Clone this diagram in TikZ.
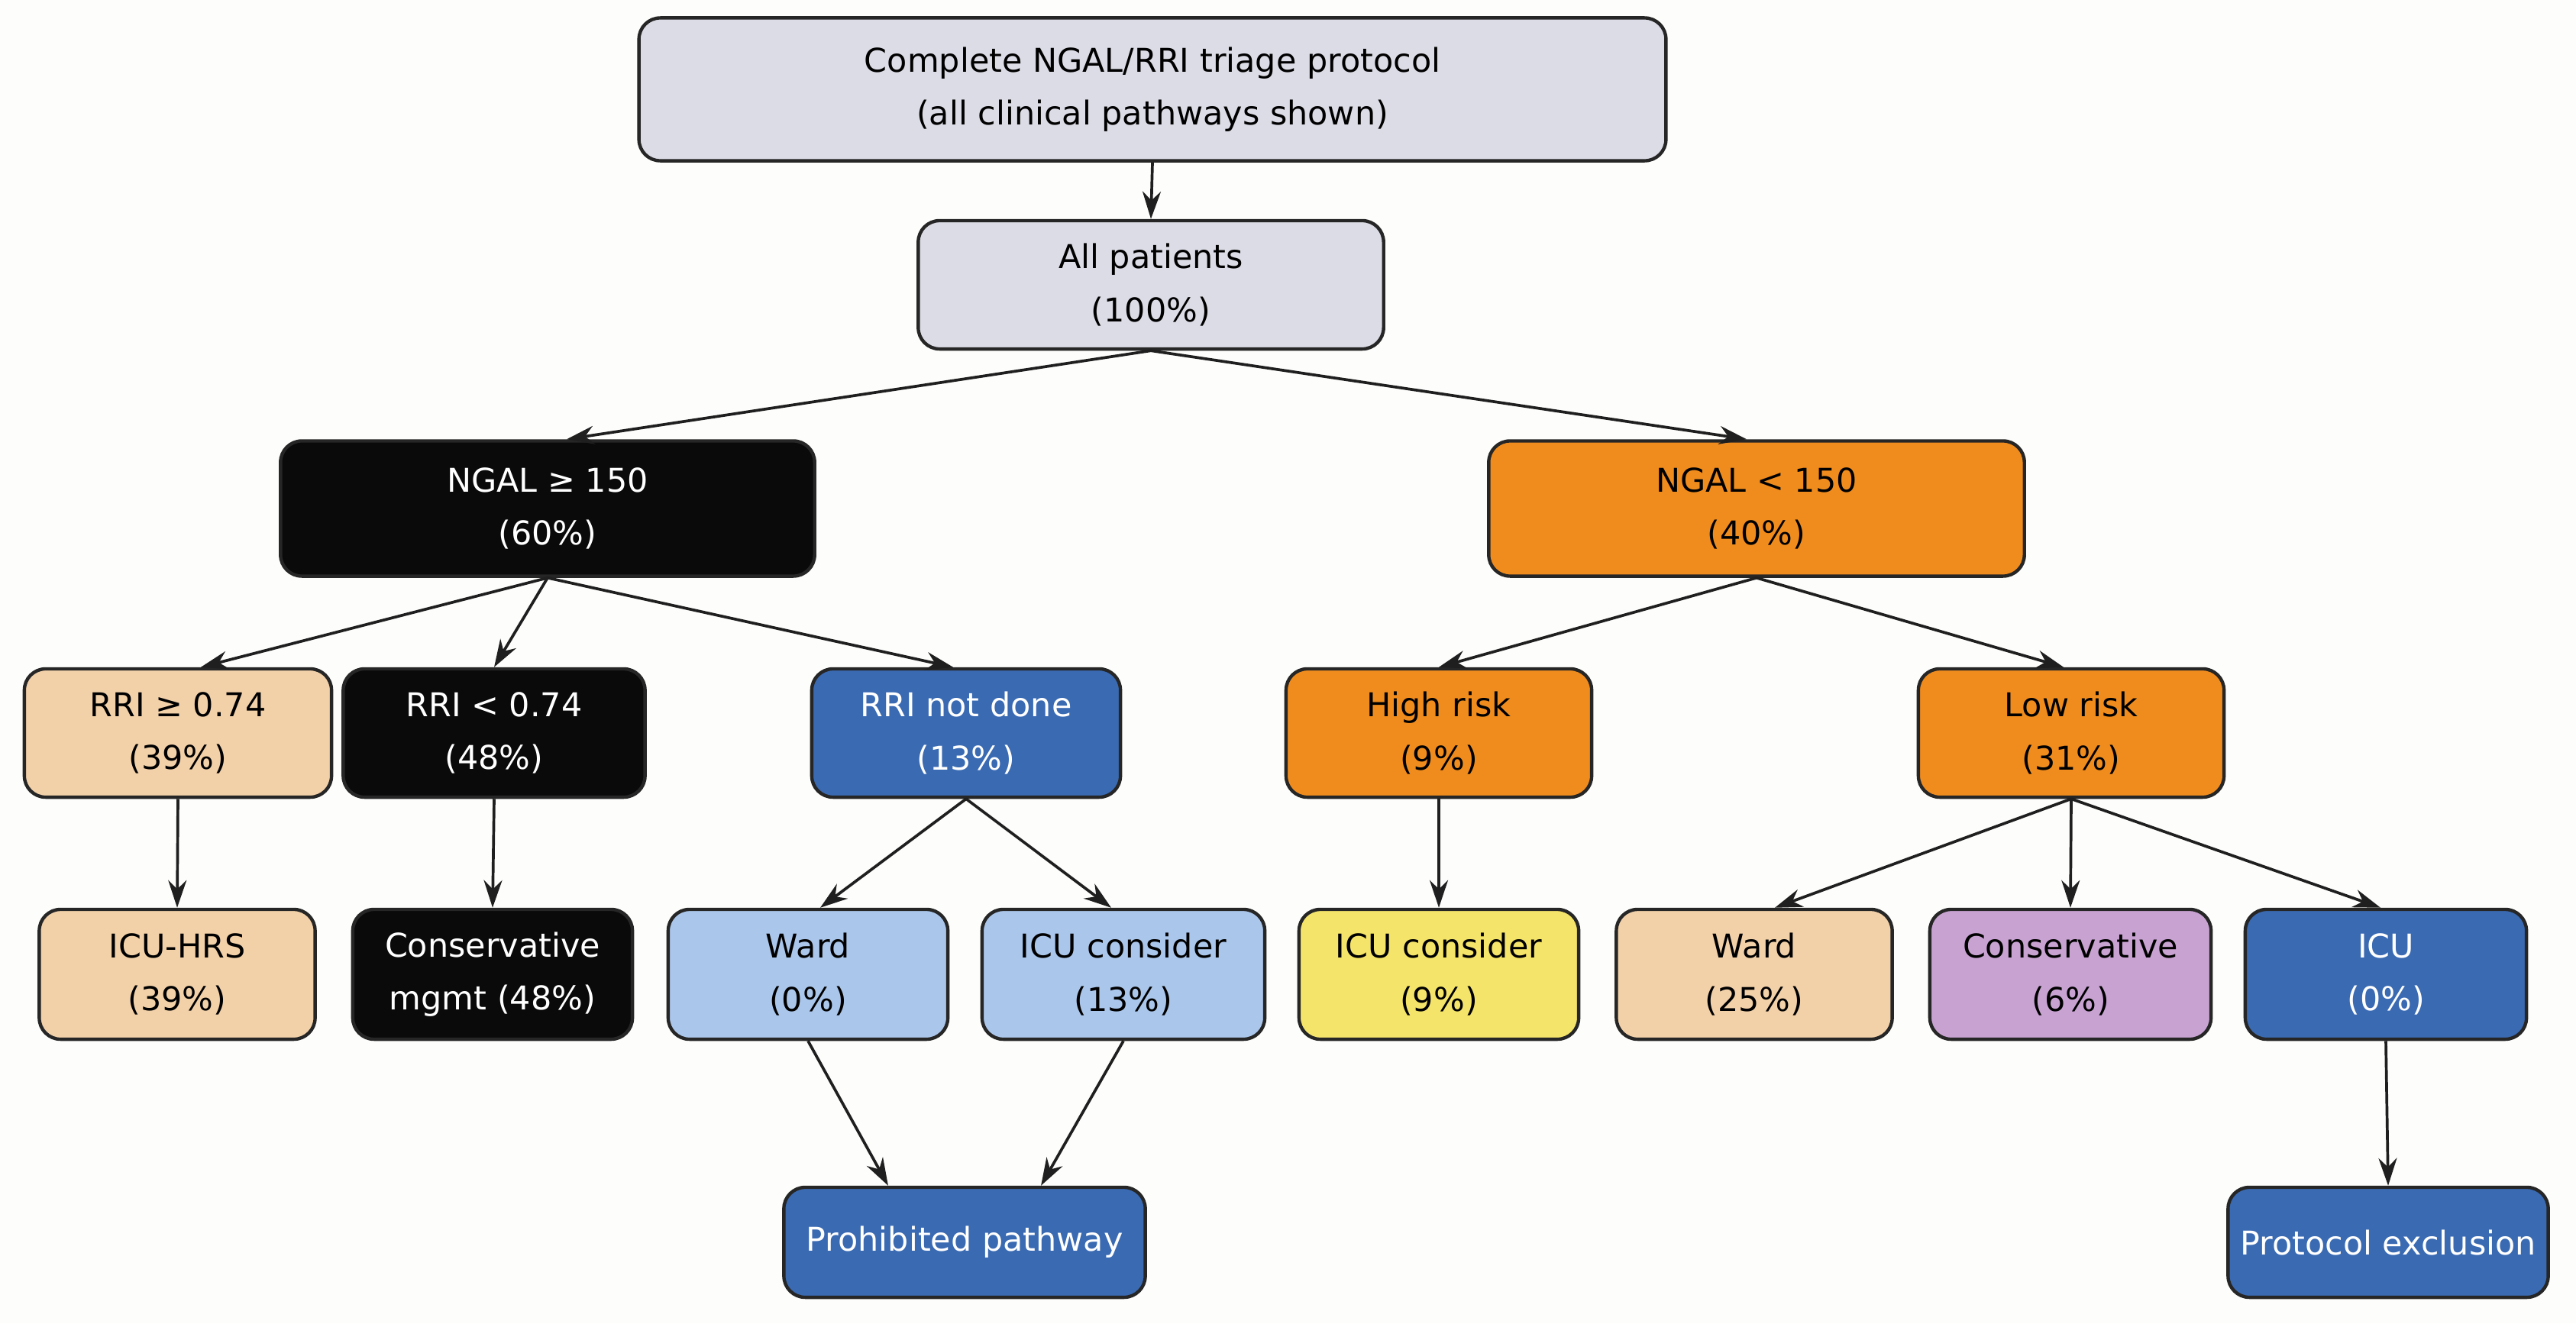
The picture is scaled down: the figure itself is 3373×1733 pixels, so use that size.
\documentclass[tikz,border=0pt]{standalone}
\usepackage{fontspec}
\setmainfont{DejaVu Sans}
\usetikzlibrary{arrows.meta}
\definecolor{cgray}{HTML}{DCDCE6}
\definecolor{cblack}{HTML}{0A0A0A}
\definecolor{corange}{HTML}{F08C1E}
\definecolor{cpeach}{HTML}{F2D1A9}
\definecolor{cblue}{HTML}{3A6AB2}
\definecolor{clblue}{HTML}{AAC6EA}
\definecolor{cyellow}{HTML}{F5E46A}
\definecolor{cpurple}{HTML}{C8A3D2}
\definecolor{cborder}{HTML}{262626}
\definecolor{cbg}{HTML}{FDFDFB}
\begin{document}
\begin{tikzpicture}[x=0.01cm,y=-0.01cm,
  box/.style={draw=cborder, line width=1.25pt, rounded corners=0.28cm, align=center,
    font=\fontsize{12.2}{19.8}\selectfont, inner sep=0pt},
  wtext/.style={text=white},
  arr/.style={-{Stealth[length=0.36cm,width=0.24cm]}, line width=1.05pt, draw=black!88}]
\fill[cbg] (0,0) rectangle (3373,1733);
\useasboundingbox (0,0) rectangle (3373,1733);
% level 0
\node[box, fill=cgray, minimum width=13.44cm, minimum height=1.87cm] (top) at (1509,117)
  {Complete NGAL/RRI triage protocol\\(all clinical pathways shown)};
\node[box, fill=cgray, minimum width=6.09cm, minimum height=1.68cm] (all) at (1507,373)
  {All patients\\(100\%)};
% level 2
\node[box, fill=cblack, wtext, minimum width=6.99cm, minimum height=1.77cm] (hi) at (717,666)
  {NGAL ≥ 150\\(60\%)};
\node[box, fill=corange, minimum width=7.01cm, minimum height=1.77cm] (lo) at (2300,666)
  {NGAL < 150\\(40\%)};
% level 3
\node[box, fill=cpeach, minimum width=4.02cm, minimum height=1.68cm] (rhi) at (233,960)
  {RRI ≥ 0.74\\(39\%)};
\node[box, fill=cblack, wtext, minimum width=3.95cm, minimum height=1.68cm] (rlo) at (647,960)
  {RRI < 0.74\\(48\%)};
\node[box, fill=cblue, wtext, minimum width=4.04cm, minimum height=1.68cm] (rnd) at (1265,960)
  {RRI not done\\(13\%)};
\node[box, fill=corange, minimum width=4.00cm, minimum height=1.68cm] (hr) at (1884,960)
  {High risk\\(9\%)};
\node[box, fill=corange, minimum width=4.00cm, minimum height=1.68cm] (lr) at (2712,960)
  {Low risk\\(31\%)};
% level 4
\node[box, fill=cpeach, minimum width=3.61cm, minimum height=1.70cm] (icuhrs) at (232,1276)
  {ICU-HRS\\(39\%)};
\node[box, fill=cblack, wtext, minimum width=3.66cm, minimum height=1.70cm] (cons) at (645,1276)
  {Conservative\\mgmt (48\%)};
\node[box, fill=clblue, minimum width=3.66cm, minimum height=1.70cm] (ward0) at (1058,1276)
  {Ward\\(0\%)};
\node[box, fill=clblue, minimum width=3.70cm, minimum height=1.70cm] (icuc13) at (1471,1276)
  {ICU consider\\(13\%)};
\node[box, fill=cyellow, minimum width=3.66cm, minimum height=1.70cm] (icuc9) at (1884,1276)
  {ICU consider\\(9\%)};
\node[box, fill=cpeach, minimum width=3.61cm, minimum height=1.70cm] (ward25) at (2297,1276)
  {Ward\\(25\%)};
\node[box, fill=cpurple, minimum width=3.68cm, minimum height=1.70cm] (cons6) at (2711,1276)
  {Conservative\\(6\%)};
\node[box, fill=cblue, wtext, minimum width=3.68cm, minimum height=1.70cm] (icu0) at (3124,1276)
  {ICU\\(0\%)};
% level 5
\node[box, fill=cblue, wtext, minimum width=4.73cm, minimum height=1.44cm] (proh) at (1263,1627)
  {Prohibited pathway};
\node[box, fill=cblue, wtext, minimum width=4.19cm, minimum height=1.44cm] (excl) at (3127,1627)
  {Protocol exclusion};
% connectors
\draw[arr] (top.south) -- (all.north);
\draw[arr] (all.south) -- ([xshift=0.25cm]hi.north);
\draw[arr] (all.south) -- ([xshift=-0.13cm]lo.north);
\draw[arr] (hi.south) -- ([xshift=0.3cm]rhi.north);
\draw[arr] (hi.south) -- (rlo.north);
\draw[arr] (hi.south) -- ([xshift=-0.17cm]rnd.north);
\draw[arr] (lo.south) -- (hr.north);
\draw[arr] (lo.south) -- ([xshift=-0.1cm]lr.north);
\draw[arr] (rhi.south) -- (icuhrs.north);
\draw[arr] (rlo.south) -- (cons.north);
\draw[arr] (rnd.south) -- ([xshift=0.16cm]ward0.north);
\draw[arr] (rnd.south) -- ([xshift=-0.16cm]icuc13.north);
\draw[arr] (hr.south) -- (icuc9.north);
\draw[arr] (lr.south) -- ([xshift=0.27cm]ward25.north);
\draw[arr] (lr.south) -- (cons6.north);
\draw[arr] (lr.south) -- ([xshift=-0.07cm]icu0.north);
\draw[arr] (ward0.south) -- ([xshift=-1.0cm]proh.north);
\draw[arr] (icuc13.south) -- ([xshift=1.0cm]proh.north);
\draw[arr] (icu0.south) -- (excl.north);
\end{tikzpicture}
\end{document}
